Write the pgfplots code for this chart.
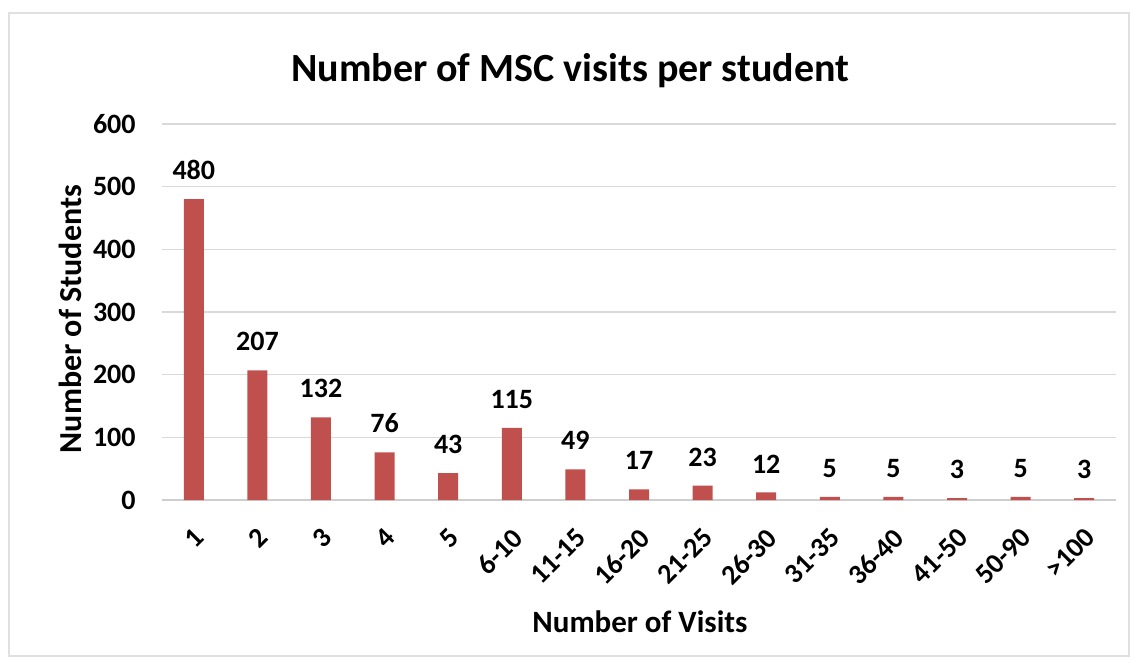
\documentclass[border=0pt]{standalone}
\usepackage{pgfplots}
\pgfplotsset{compat=1.18}
\usepackage{fontspec}
\setmainfont{Carlito}
\definecolor{barred}{RGB}{192,80,77}
\definecolor{gridgray}{RGB}{217,217,217}
\definecolor{framegray}{RGB}{224,224,224}
\begin{document}
\begin{tikzpicture}
\useasboundingbox (0pt,0pt) rectangle (568pt,333pt);
\draw[framegray, line width=1pt] (4.5pt,5pt) rectangle (564.5pt,326.5pt);
\begin{axis}[
  at={(81pt,83pt)}, anchor=south west,
  scale only axis, width=477pt, height=188pt,
  ymin=0, ymax=600, ytick={0,100,...,600},
  xmin=-0.5, xmax=14.5,
  xtick={0,...,14},
  xticklabels={1,2,3,4,5,6-10,11-15,16-20,21-25,26-30,31-35,36-40,41-50,50-90,>100},
  separate axis lines,
  axis x line*=bottom, axis y line*=left,
  y axis line style={draw=none},
  x axis line style={draw=gridgray!80!black!60, line width=0.8pt},
  major tick length=0pt,
  ymajorgrids, major grid style={gridgray, line width=0.8pt},
  /pgf/number format/assume math mode=true,
  tick label style={font=\fontsize{14}{16}\selectfont\bfseries},
  yticklabel style={inner sep=0pt, xshift=-13pt},
  xticklabel style={xshift=3pt, yshift=-16.5pt, rotate=45, anchor=east, inner sep=0pt},
  title={Number of MSC visits per student},
  title style={font=\fontsize{20}{24}\selectfont\bfseries, at={(axis description cs:0.428,1.11)}, anchor=center},
  xlabel={Number of Visits},
  ylabel={Number of Students},
  xlabel style={font=\fontsize{15.5}{18}\selectfont\bfseries, at={(axis description cs:0.501,-0.324)}, anchor=center},
  ylabel style={font=\fontsize{16}{19}\selectfont\bfseries, at={(axis description cs:-0.0964,0.481)}, anchor=center, rotate=0},
  nodes near coords,
  every node near coord/.append style={font=\fontsize{14}{16}\selectfont\bfseries, anchor=south, inner sep=0pt, yshift=9.5pt},
]
\addplot[ybar, bar width=10pt, fill=barred, draw=none] coordinates {
(0,480) (1,207) (2,132) (3,76) (4,43) (5,115) (6,49) (7,17) (8,23) (9,12) (10,5) (11,5) (12,3) (13,5) (14,3)
};
\end{axis}
\end{tikzpicture}
\end{document}
